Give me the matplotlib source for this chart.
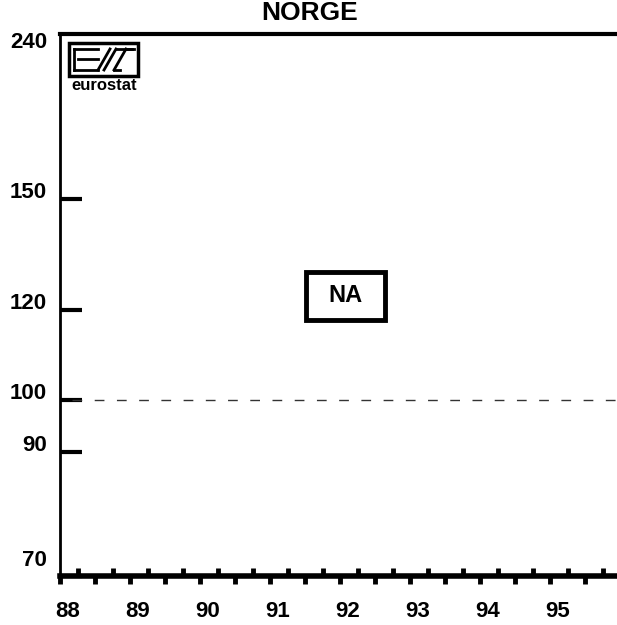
import matplotlib
matplotlib.use("Agg")
import matplotlib.pyplot as plt
from matplotlib.patches import Rectangle
from matplotlib.ticker import FixedLocator, NullFormatter
import matplotlib.transforms as mtransforms

plt.rcParams['font.family'] = ['Liberation Sans', 'DejaVu Sans']
plt.rcParams['font.weight'] = 'bold'

country    = "NORGE"
years      = [88, 89, 90, 91, 92, 93, 94, 95]
y_ticks    = [70, 90, 100, 120, 150]
y_top_lbl  = "240"
base_value = 100
note       = "NA"   # no data for this country

fig = plt.figure(figsize=(6.17, 6.25), dpi=100)
ax = fig.add_axes([0.098, 0.0784, 0.902, 0.8672])

ax.set_yscale('log')
ax.set_ylim(70, 209.5)
ax.set_xlim(1988, 1995.95)

# y axis: fixed ticks, pointing inwards
ax.yaxis.set_major_locator(FixedLocator(y_ticks))
ax.yaxis.set_minor_locator(FixedLocator([]))
ax.yaxis.set_minor_formatter(NullFormatter())
ax.set_yticklabels([str(v) for v in y_ticks])
ax.tick_params(axis='y', direction='in', length=16, width=3, pad=10,
               labelsize=16, left=True, right=False)
for lbl in ax.get_yticklabels():
    lbl.set_fontweight('bold')
    lbl.set_verticalalignment('bottom')
    lbl.set_transform(lbl.get_transform() +
                      mtransforms.ScaledTranslation(0, -0.04, fig.dpi_scale_trans))
# 70 sits higher above the axis
lbl70 = ax.get_yticklabels()[0]
lbl70.set_transform(lbl70.get_transform() +
                    mtransforms.ScaledTranslation(0, 0.09, fig.dpi_scale_trans))
ax.text(-0.024, 1.004, y_top_lbl, transform=ax.transAxes, ha='right', va='top',
        fontsize=16, fontweight='bold')

# x axis: half-year ticks below, quarter ticks above
half = [1988 + 0.5 * i for i in range(16)]
quarter = [1988.25 + 0.5 * i for i in range(16)]
ax.xaxis.set_major_locator(FixedLocator(half))
ax.xaxis.set_minor_locator(FixedLocator(quarter))
ax.xaxis.set_major_formatter(NullFormatter())
ax.xaxis.set_minor_formatter(NullFormatter())
ax.tick_params(axis='x', which='major', direction='out', length=6, width=3.5)
ax.tick_params(axis='x', which='minor', direction='in', length=6, width=3.5)
for y in years:
    ax.text(1900 + y + 0.107, -0.046, str(y), transform=ax.get_xaxis_transform(),
            ha='center', va='top', fontsize=16, fontweight='bold')

ax.spines['right'].set_visible(False)
ax.spines['bottom'].set_linewidth(4)
ax.spines['top'].set_linewidth(3)
ax.spines['left'].set_linewidth(2)

# base line at 100
ax.plot([1988.17, 1995.95], [base_value, base_value], color='#333333',
        lw=1.0, dashes=(7, 9))

# "not available" box
ax.add_patch(Rectangle((0.441, 0.472), 0.142, 0.089, transform=ax.transAxes,
                       fill=False, ec='black', lw=3.5))
ax.text(0.512, 0.517, note, transform=ax.transAxes, ha='center', va='center',
        fontsize=17, fontweight='bold')

fig.text(310 / 617, 1 - 20 / 625, country, ha='center', va='baseline',
         fontsize=19, fontweight='bold')

# eurostat logo, top-left
def px(x, y):
    return (x / 617, 1 - y / 625)

x0, y0 = px(69, 76)
x1, y1 = px(138, 43)
fig.patches.append(Rectangle((x0, y0), x1 - x0, y1 - y0, transform=fig.transFigure,
                             fill=False, ec='black', lw=2.5))
segs = [((74, 49), (98, 49)), ((78, 59), (98, 59)), ((74, 70), (98, 70)),
        ((74, 49), (74, 70)),
        ((98, 70), (110, 49)), ((104, 70), (116, 49)),
        ((116, 49), (134, 49)), ((114, 70), (126, 49)), ((126, 49), (132, 49)),
        ((114, 70), (120, 70))]
for (a, b) in segs:
    pa, pb = px(*a), px(*b)
    fig.add_artist(plt.Line2D([pa[0], pb[0]], [pa[1], pb[1]], color='black',
                              lw=2, transform=fig.transFigure))
fig.text(*px(104, 85), "eurostat", ha='center', va='center', fontsize=12,
         fontweight='bold')

fig.savefig("out.png", dpi=100)
